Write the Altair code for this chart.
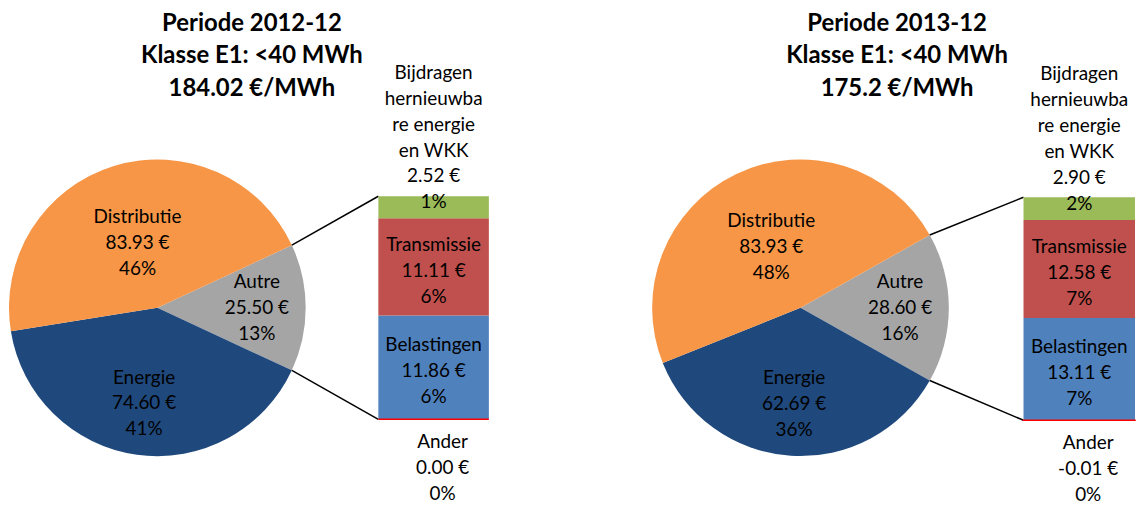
import math
import altair as alt
import pandas as pd

# ---------------- data ----------------
periods = ["2012-12", "2013-12"]
price_per_mwh = ["184.02", "175.2"]
klasse = "Klasse E1: <40 MWh"

pie_cats = ["Autre", "Energie", "Distributie"]
pie_vals = {"2012-12": [25.50, 74.60, 83.93], "2013-12": [28.60, 62.69, 83.93]}
pie_pcts = {"2012-12": [13, 41, 46], "2013-12": [16, 36, 48]}

bar_cats = ["Ander", "Belastingen", "Transmissie", "Bijdragen"]
bar_names = ["Ander", "Belastingen", "Transmissie", "Bijdragen\nhernieuwba\nre energie\nen WKK"]
bar_vals = {"2012-12": [0.00, 11.86, 11.11, 2.52], "2013-12": [-0.01, 13.11, 12.58, 2.90]}
bar_pcts = {"2012-12": [0, 6, 6, 1], "2013-12": [0, 7, 7, 2]}

colors = {
    "Autre": "#A5A5A5", "Energie": "#1F497D", "Distributie": "#F79646",
    "Ander": "#FF0000", "Belastingen": "#4F81BD", "Transmissie": "#C0504D", "Bijdragen": "#9BBB59",
}

FONT = "Lato"
LBL = 19
LH = 26
R = 149
color_scale = alt.Scale(domain=list(colors.keys()), range=list(colors.values()))


def panel(period, price, cx, cy, bx0, bx1, ytop, ybot, tx):
    pv = pie_vals[period]
    pie_df = pd.DataFrame({
        "cat": pie_cats, "value": pv, "ord": list(range(len(pie_cats))),
        "label": [f"{c}\n{v:.2f} €\n{p}%" for c, v, p in zip(pie_cats, pv, pie_pcts[period])],
    })
    bv = bar_vals[period]
    bar_df = pd.DataFrame({
        "cat": bar_cats, "value": bv, "ord": list(range(len(bar_cats))),
        "label": [f"{n}\n{v:.2f} €\n{p}%" for n, v, p in zip(bar_names, bv, bar_pcts[period])],
    })
    pie_total = sum(pv)
    autre_ang = 2 * math.pi * pv[0] / pie_total
    a0 = math.pi / 2 - autre_ang / 2
    theta_scale = alt.Scale(domain=[0, pie_total], range=[a0, a0 + 2 * math.pi])
    bar_total = sum(v for v in bv if v > 0)
    y_scale = alt.Scale(domain=[0, bar_total], range=[ybot, ytop])

    title_df = pd.DataFrame({"t": [f"Periode {period}\n{klasse}\n{price} €/MWh"]})
    title = alt.Chart(title_df).mark_text(
        font=FONT, fontSize=24, fontWeight="bold", lineBreak="\n", lineHeight=32.5,
        align="center", baseline="middle", color="black",
    ).encode(text="t:N", x=alt.value(tx), y=alt.value(15))

    pie_base = alt.Chart(pie_df).transform_stack(
        stack="value", as_=["t0", "t1"], groupby=[], sort=[alt.SortField("ord", order="ascending")]
    ).transform_calculate(tm="(datum.t0 + datum.t1) / 2")

    arcs = pie_base.mark_arc(outerRadius=R).encode(
        theta=alt.Theta("t0:Q", scale=theta_scale),
        theta2="t1:Q",
        color=alt.Color("cat:N", scale=color_scale, legend=None),
        x=alt.value(cx), y=alt.value(cy),
    )
    radii = {"Distributie": 68, "Energie": 97, "Autre": 100}
    pie_labels = [
        pie_base.transform_filter(alt.datum.cat == c).mark_text(
            radius=r, font=FONT, fontSize=LBL, lineBreak="\n", lineHeight=LH,
            align="center", baseline="middle", color="black", dy=-LH,
        ).encode(theta=alt.Theta("tm:Q", scale=theta_scale), text="label:N",
                 x=alt.value(cx), y=alt.value(cy))
        for c, r in radii.items()
    ]

    bar_base = alt.Chart(bar_df).transform_stack(
        stack="value", as_=["y0", "y1"], groupby=[], sort=[alt.SortField("ord", order="ascending")]
    ).transform_calculate(ym="(datum.y0 + datum.y1) / 2")

    rects = bar_base.mark_rect().encode(
        y=alt.Y("y0:Q", scale=y_scale, axis=None), y2="y1:Q",
        x=alt.value(bx0), x2=alt.value(bx1),
        color=alt.Color("cat:N", scale=color_scale, legend=None),
    )
    ander_line = bar_base.transform_filter(alt.datum.cat == "Ander").mark_rect(
        stroke="#FF0000", strokeWidth=1.5, fill="#FF0000"
    ).encode(y=alt.Y("y0:Q", scale=y_scale, axis=None), y2="y1:Q",
             x=alt.value(bx0), x2=alt.value(bx1))

    bxc = (bx0 + bx1) / 2
    txt_kw = dict(font=FONT, fontSize=LBL, lineBreak="\n", lineHeight=LH, align="center",
                  baseline="middle", color="black")
    mid_labels = bar_base.transform_filter(
        alt.FieldOneOfPredicate(field="cat", oneOf=["Belastingen", "Transmissie"])
    ).mark_text(dy=-22, **txt_kw).encode(
        y=alt.Y("ym:Q", scale=y_scale, axis=None), x=alt.value(bxc), text="label:N")
    top_label = bar_base.transform_filter(alt.datum.cat == "Bijdragen").mark_text(
        dy=-135, **txt_kw).encode(
        y=alt.Y("ym:Q", scale=y_scale, axis=None), x=alt.value(bxc), text="label:N")
    ander_label = bar_base.transform_filter(alt.datum.cat == "Ander").mark_text(
        dy=23, dx=9, **txt_kw).encode(
        y=alt.Y("y0:Q", scale=y_scale, axis=None), x=alt.value(bxc), text="label:N")

    # connector lines from Autre slice edges to the bar corners
    e1 = (cx + R * math.sin(a0), cy - R * math.cos(a0))
    e2 = (cx + R * math.sin(a0 + autre_ang), cy - R * math.cos(a0 + autre_ang))
    one = pd.DataFrame({"k": [0]})
    conn1 = alt.Chart(one).mark_rule(color="black", strokeWidth=1.5).encode(
        x=alt.value(e1[0]), y=alt.value(e1[1]), x2=alt.value(bx0), y2=alt.value(ytop))
    conn2 = alt.Chart(one).mark_rule(color="black", strokeWidth=1.5).encode(
        x=alt.value(e2[0]), y=alt.value(e2[1]), x2=alt.value(bx0), y2=alt.value(ybot))

    return alt.layer(
        arcs, *pie_labels, conn1, conn2, rects, ander_line, mid_labels, top_label, ander_label, title
    ).properties(width=564, height=490)


left = panel(periods[0], price_per_mwh[0], 150, 300, 372, 483, 188, 412, 245)
right = panel(periods[1], price_per_mwh[1], 232, 300, 456, 568, 189, 413, 329)

chart = alt.hconcat(left, right, spacing=0).resolve_scale(
    theta="independent", y="independent"
).properties(padding=0).configure_view(stroke=None)

chart.save("out.html", embed_options={"renderer": "svg", "actions": False})
